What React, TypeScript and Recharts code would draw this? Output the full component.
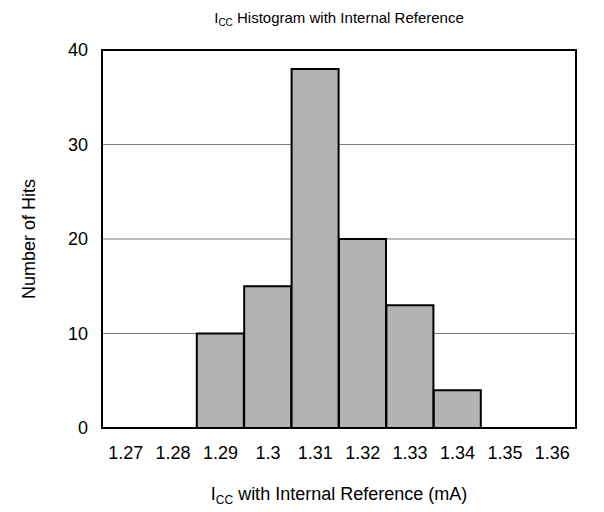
import React from 'react';
import { BarChart, Bar, XAxis, YAxis, CartesianGrid } from 'recharts';

const bins = ['1.27', '1.28', '1.29', '1.3', '1.31', '1.32', '1.33', '1.34', '1.35', '1.36'];
const hits = [0, 0, 10, 15, 38, 20, 13, 4, 0, 0];
const yTicks = [0, 10, 20, 30, 40];

const data = bins.map((bin, i) => ({ bin, hits: hits[i] }));

const font = '"Liberation Sans", Arial, sans-serif';

const XLabel = ({ viewBox }: any) => {
  const cx = viewBox.x + viewBox.width / 2;
  return (
    <text x={cx} y={500} textAnchor="middle" fontSize={18} fill="#000" fontFamily={font}>
      <tspan>I</tspan>
      <tspan fontSize={12} dy={4}>CC</tspan>
      <tspan dy={-4}> with Internal Reference (mA)</tspan>
    </text>
  );
};

const App = () => {
  return (
    <div style={{ position: 'absolute', left: 0, top: 0, width: 604, height: 512, fontFamily: font }}>
      <div
        style={{
          position: 'absolute',
          left: 102,
          width: 474,
          top: 9,
          textAlign: 'center',
          fontSize: 15,
          lineHeight: '17px',
          color: '#000',
        }}
      >
        I<sub style={{ fontSize: 10, verticalAlign: '-3px', lineHeight: 0 }}>CC</sub> Histogram with Internal Reference
      </div>
      <BarChart
        width={604}
        height={512}
        data={data}
        margin={{ top: 50, right: 28, bottom: 0, left: 0 }}
        barCategoryGap={0}
        style={{ fontFamily: font }}
      >
        <CartesianGrid vertical={false} stroke="#808080" strokeWidth={1} />
        <XAxis
          dataKey="bin"
          tickLine={false}
          axisLine={{ stroke: '#000', strokeWidth: 2 }}
          tick={{ fill: '#000', fontSize: 18 }}
          tickMargin={12}
          interval={0}
          height={84}
          label={<XLabel />}
        />
        <YAxis
          domain={[0, 40]}
          ticks={yTicks}
          tickLine={false}
          axisLine={{ stroke: '#000', strokeWidth: 2 }}
          tick={{ fill: '#000', fontSize: 18 }}
          tickMargin={8}
          width={102}
          label={{
            value: 'Number of Hits',
            angle: -90,
            position: 'insideLeft',
            offset: 29,
            style: { textAnchor: 'middle', fill: '#000', fontSize: 18 },
          }}
        />
        <Bar dataKey="hits" fill="#B3B3B3" stroke="#000" strokeWidth={2} isAnimationActive={false} />
      </BarChart>
      <div
        style={{
          position: 'absolute',
          left: 101,
          top: 49,
          width: 476,
          height: 380,
          boxSizing: 'border-box',
          border: '2px solid #000',
          pointerEvents: 'none',
        }}
      />
    </div>
  );
};

export default App;
